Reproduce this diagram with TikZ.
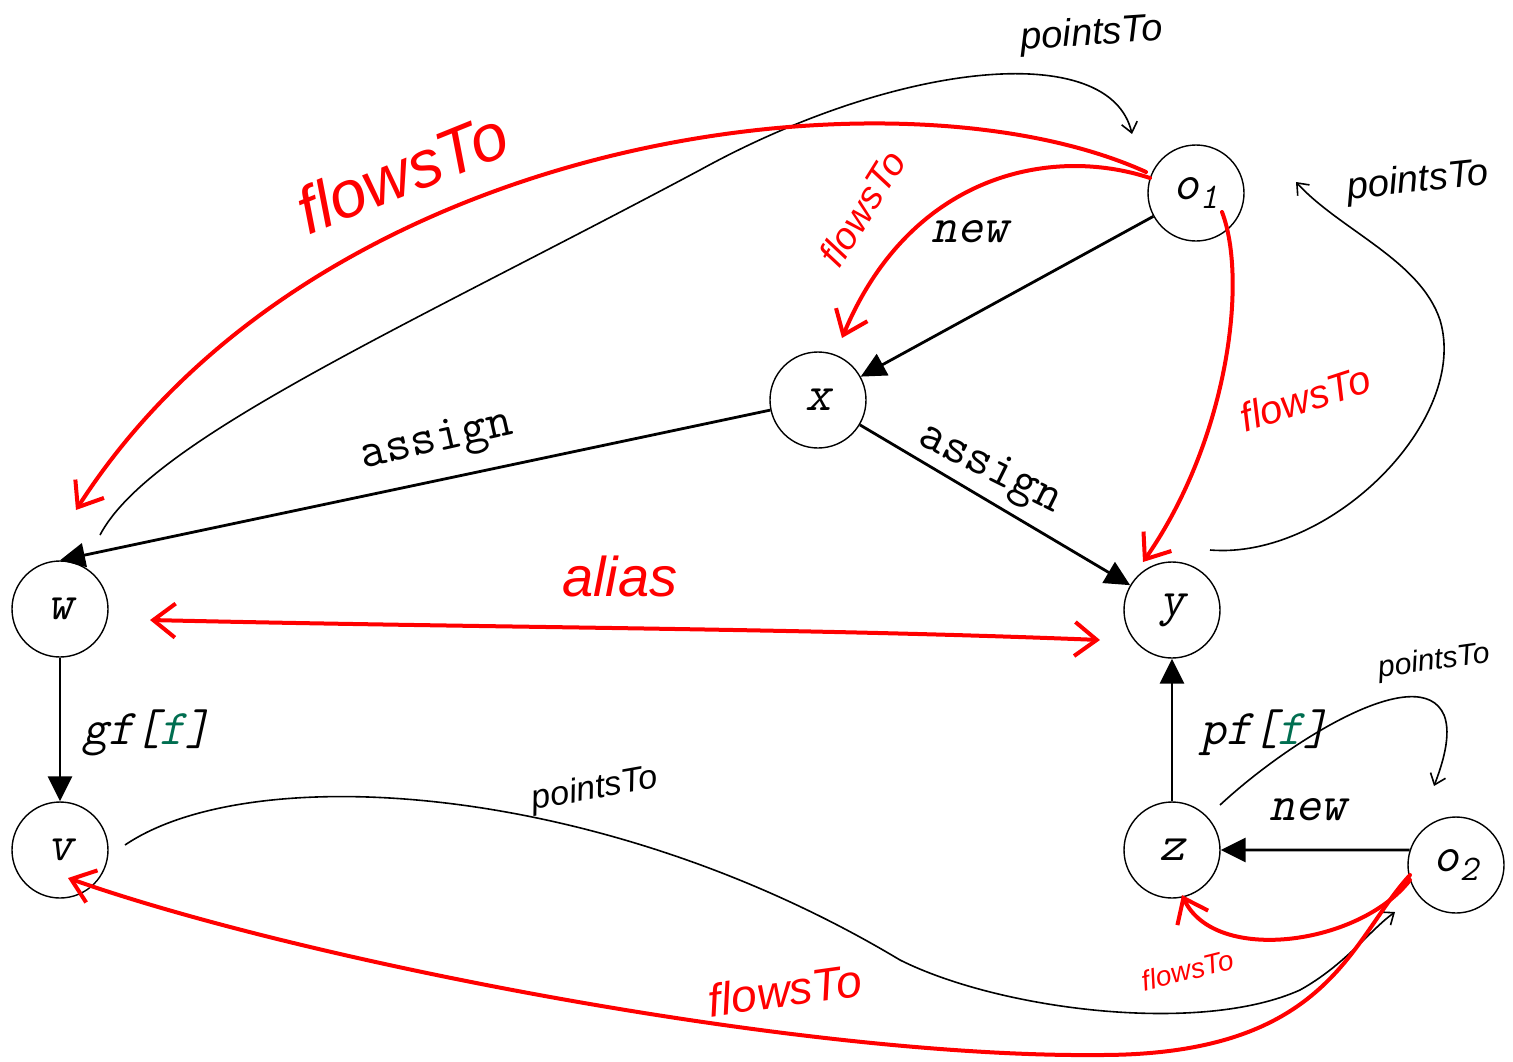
\documentclass[tikz,border=0pt]{standalone}
\usepackage{fontspec}
\newfontfamily\handfont{Liberation Sans}
\newfontfamily\codefont{Latin Modern Mono}
\newfontfamily\codeslant[FakeSlant=0.22]{Latin Modern Mono}
\usetikzlibrary{arrows.meta}
\definecolor{fgreen}{RGB}{0,110,80}
\definecolor{hred}{RGB}{255,0,0}
\tikzset{
  vert/.style={circle, draw, line width=1.4pt, minimum size=96pt, inner sep=0pt,
    font=\codeslant\fontsize{50}{50}\selectfont},
  edge/.style={line width=2.8pt, -{Triangle[length=25pt,width=24pt]}},
  elabel/.style={font=\codefont\fontsize{50}{50}\selectfont, inner sep=0pt},
  eilabel/.style={font=\codeslant\fontsize{50}{50}\selectfont, inner sep=0pt},
  ptsto/.style={line width=1.6pt, -{Straight Barb[length=10pt,width=16pt]}},
  flows/.style={hred, line width=4pt, line cap=round, -{Straight Barb[length=22pt,width=34pt]}},
  handlbl/.style={font=\handfont\itshape, inner sep=0pt},
}
\newcommand{\subidx}[1]{\raisebox{-9pt}{\fontsize{36}{36}\selectfont #1}}
\begin{document}
\begin{tikzpicture}[x=1pt, y=-1pt]
\useasboundingbox (0,0) rectangle (1513,1061);

% vertices
\node[vert] (o1) at (1196,193) {o\subidx{1}};
\node[vert] (x)  at (818,400)  {x};
\node[vert] (w)  at (60,609)   {w};
\node[vert] (y)  at (1172,610) {y};
\node[vert] (v)  at (60,850)   {v};
\node[vert] (z)  at (1172,850) {z};
\node[vert] (o2) at (1456,865) {o\subidx{2}};

% program edges
\draw[edge] (o1) -- (x);
\draw[edge] (x) -- (w.north);
\draw[edge] (x) -- (y);
\draw[edge] (w) -- (v);
\draw[edge] (z) -- (y);
\draw[edge] (o2.162) -- (z.east);

\node[eilabel] (lnew1) at (970,232) {new};
\node[elabel, rotate=12.8] (lasg1) at (437,442) {assign};
\node[elabel, rotate=-26.5] (lasg2) at (990,470) {assign};
\node[eilabel] (lgf) at (147,733) {gf[\textcolor{fgreen}{f}]};
\node[eilabel] (lpf) at (1265,733) {pf[\textcolor{fgreen}{f}]};
\node[eilabel] (lnew2) at (1308,810) {new};

% pointsTo annotations
\coordinate (p1s) at (100,535);
\coordinate (p1e) at (1132,134);
\draw[ptsto] (p1s) .. controls (150,440) and (400,330) .. (700,170)
  .. controls (900,60) and (1110,40) .. (p1e);
\node[handlbl, font=\handfont\itshape\fontsize{38}{38}\selectfont, rotate=4] (t1) at (1092,35) {pointsTo};

\coordinate (p2s) at (1210,550);
\coordinate (p2e) at (1296,182);
\draw[ptsto] (p2s) .. controls (1330,560) and (1470,420) .. (1440,320)
  .. controls (1420,260) and (1340,230) .. (p2e);
\node[handlbl, font=\handfont\itshape\fontsize{38}{38}\selectfont, rotate=6] (t2) at (1418,182) {pointsTo};

\coordinate (p3s) at (1220,805);
\coordinate (p3e) at (1434,786);
\draw[ptsto] (p3s) .. controls (1290,740) and (1420,660) .. (1444,715)
  .. controls (1452,735) and (1442,765) .. (p3e);
\node[handlbl, font=\handfont\itshape\fontsize{30}{30}\selectfont, rotate=8] (t3) at (1434,662) {pointsTo};

\coordinate (p4s) at (125,845);
\coordinate (p4e) at (1395,912);
\draw[ptsto] (p4s) .. controls (250,760) and (600,780) .. (900,960)
  .. controls (1000,1010) and (1200,1035) .. (1300,990)
  .. controls (1345,965) and (1370,930) .. (p4e);
\node[handlbl, font=\handfont\itshape\fontsize{34}{34}\selectfont, rotate=10] (t4) at (595,790) {pointsTo};

% flowsTo annotations
\coordinate (f1s) at (1146,172);
\coordinate (f1e) at (76,510);
\draw[flows] (f1s) .. controls (900,60) and (320,130) .. (f1e);
\node[handlbl, hred, font=\handfont\itshape\fontsize{66}{66}\selectfont, rotate=22] (r1) at (402,172) {flowsTo};

\coordinate (f2s) at (1150,178);
\coordinate (f2e) at (842,338);
\draw[flows] (f2s) .. controls (1050,145) and (910,175) .. (f2e);
\node[handlbl, hred, font=\handfont\itshape\fontsize{38}{38}\selectfont, rotate=58] (r2) at (862,208) {flowsTo};

\coordinate (f3s) at (1222,212);
\coordinate (f3e) at (1143,562);
\draw[flows] (f3s) .. controls (1248,280) and (1228,440) .. (f3e);
\node[handlbl, hred, font=\handfont\itshape\fontsize{40}{40}\selectfont, rotate=18] (r3) at (1305,398) {flowsTo};

\coordinate (f4s) at (1410,875);
\coordinate (f4e) at (68,878);
\draw[flows] (f4s) .. controls (1350,940) and (1330,1055) .. (1100,1055)
  .. controls (800,1058) and (300,960) .. (f4e);
\node[handlbl, hred, font=\handfont\itshape\fontsize{46}{46}\selectfont, rotate=8] (r4) at (785,990) {flowsTo};

\coordinate (f5s) at (1410,880);
\coordinate (f5e) at (1182,895);
\draw[flows] (f5s) .. controls (1360,945) and (1215,965) .. (f5e);
\node[handlbl, hred, font=\handfont\itshape\fontsize{28}{28}\selectfont, rotate=14] (r5) at (1188,970) {flowsTo};

% alias between w and y
\coordinate (al) at (150,620);
\coordinate (ar) at (1100,640);
\draw[flows, {Straight Barb[length=22pt,width=34pt]}-{Straight Barb[length=22pt,width=34pt]}]
  (al) .. controls (500,628) and (800,628) .. (ar);
\node[handlbl, hred, font=\handfont\itshape\fontsize{56}{56}\selectfont] (ra) at (620,576) {alias};

\end{tikzpicture}
\end{document}
